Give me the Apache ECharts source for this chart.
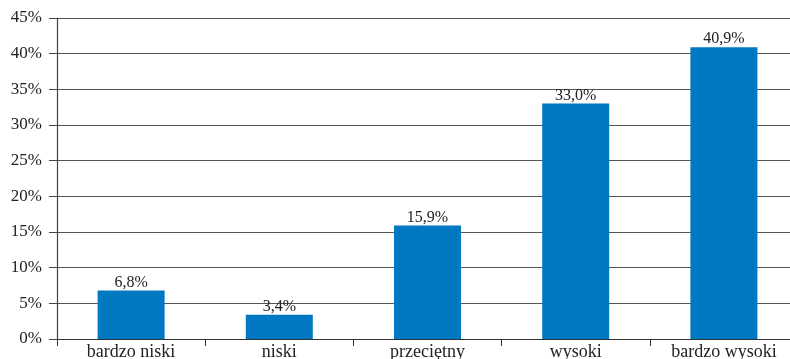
<!DOCTYPE html>
<html>
<head>
<meta charset="utf-8">
<script src="https://cdn.jsdelivr.net/npm/echarts@6/dist/echarts.min.js"></script>
<style>
html,body{margin:0;padding:0;background:#fff;}
#chart{width:790px;height:359px;}
</style>
</head>
<body>
<div id="chart"></div>
<script>
// Categories and shares (%)
const categories = ['bardzo niski', 'niski', 'przeciętny', 'wysoki', 'bardzo wysoki'];
const shares = [6.8, 3.4, 15.9, 33.0, 40.9];
const yTicks = [0, 5, 10, 15, 20, 25, 30, 35, 40, 45];

const serif = '"Liberation Serif", "DejaVu Serif", serif';
const chart = echarts.init(document.getElementById('chart'), null, {renderer: 'canvas'});

// The plot area runs slightly past the right edge of the canvas
chart.setOption({
  animation: false,
  grid: {left: 57, width: 741, top: 18, bottom: 20, outerBoundsMode: 'none', containLabel: false},
  xAxis: {
    type: 'category',
    data: categories,
    boundaryGap: true,
    axisLine: {lineStyle: {color: '#333', width: 1.2}},
    axisTick: {show: true, length: 7, lineStyle: {color: '#333'}},
    axisLabel: {color: '#222', fontFamily: serif, fontSize: 18, margin: 4}
  },
  yAxis: {
    type: 'value',
    min: yTicks[0],
    max: yTicks[yTicks.length - 1],
    interval: 5,
    axisLine: {show: true, lineStyle: {color: '#444', width: 1.2}},
    axisTick: {show: true, length: 8, lineStyle: {color: '#444'}},
    splitLine: {lineStyle: {color: '#555', width: 1}},
    axisLabel: {color: '#222', fontFamily: serif, fontSize: 17, margin: 15,
      formatter: v => v + '%'}
  },
  series: [{
    type: 'bar',
    data: shares,
    barWidth: 67,
    itemStyle: {color: '#0079C2'},
    label: {
      show: true,
      position: 'top',
      distance: 0,
      color: '#222',
      fontFamily: serif,
      fontSize: 16,
      formatter: p => p.value.toFixed(1).replace('.', ',') + '%'
    }
  }]
});
</script>
</body>
</html>
